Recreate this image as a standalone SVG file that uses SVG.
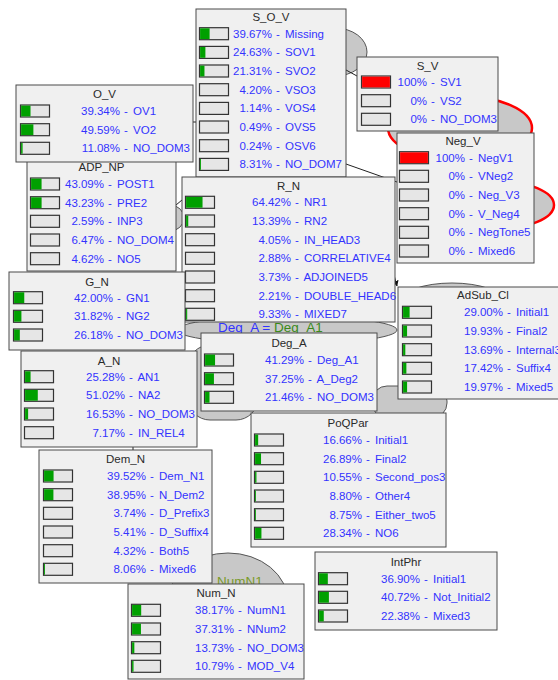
<svg xmlns="http://www.w3.org/2000/svg" width="558" height="680" viewBox="0 0 558 680">
<defs>
<style>
.box{fill:#f0f0f0;stroke:#4a4a4a;stroke-width:1}
.bar{fill:#e6e6e6;stroke:#333;stroke-width:1.2}
.g{fill:#00a000}
.r{fill:#ff0000}
.t{font-family:"Liberation Sans",Arial,sans-serif;font-size:11.5px;fill:#2a2a2a;text-anchor:middle}
.p{font-family:"Liberation Sans",Arial,sans-serif;font-size:11.5px;fill:#3333ff;text-anchor:end}
.l{font-family:"Liberation Sans",Arial,sans-serif;font-size:11.5px;fill:#3333ff;word-spacing:2px}
.blob{fill:#c8c8c8;stroke:#555;stroke-width:1}
.eblob{fill:#c8c8c8;stroke:#ff0000;stroke-width:2.5}
.c{stroke:#222;stroke-width:1;fill:none}
.big{font-family:"Liberation Sans",Arial,sans-serif;font-size:13.5px}
</style>
<marker id="ah" viewBox="0 0 10 10" refX="9" refY="5" markerWidth="6" markerHeight="6" orient="auto"><path d="M0,0 L10,5 L0,10 z" fill="#111"/></marker>
</defs>
<rect x="0" y="0" width="558" height="680" fill="#ffffff"/>
<g id="backdrop">
<ellipse class="blob" cx="335" cy="52" rx="32" ry="24"/>
<ellipse class="eblob" cx="460" cy="128" rx="72" ry="32"/>
<ellipse class="eblob" cx="497" cy="205" rx="57" ry="24"/>
<ellipse class="blob" cx="170" cy="218" rx="14" ry="13"/>
<ellipse class="blob" cx="452" cy="302" rx="52" ry="19"/>
<ellipse class="blob" cx="287" cy="330" rx="110" ry="14"/>
<text class="big" x="218" y="332"><tspan fill="#3333ff">Deg_A = </tspan><tspan fill="#3a8a1a">Deg_A1</tspan></text>
<rect class="blob" x="188" y="345" width="70" height="75" rx="22"/>
<rect class="blob" x="372" y="386" width="75" height="32" rx="15"/>
<ellipse class="blob" cx="228" cy="602" rx="60" ry="49"/>
<text class="big" x="217" y="586" fill="#7a9a2a">NumN1</text>
</g>
<g id="connectors">
<line class="c" x1="346" y1="70" x2="357" y2="76"/>
<line class="c" x1="346" y1="164" x2="397" y2="182"/>
<line class="c" x1="193" y1="122" x2="196" y2="122"/>
<line class="c" x1="176" y1="205" x2="182" y2="200"/>
<line class="c" x1="391" y1="264" x2="397" y2="286" marker-end="url(#ah)"/>
<line class="c" x1="133" y1="447" x2="133" y2="450"/>
</g>
<g id="node-S_O_V">
<rect class="box" x="196" y="9" width="150" height="168"/>
<text class="t" x="271" y="21">S_O_V</text>
<rect class="bar" x="199.5" y="27.7" width="29" height="12"/><rect class="g" x="200.1" y="28.3" width="9.51" height="10.8"/>
<text class="p" x="272" y="37.7">39.67%</text><text class="l" x="276" y="37.7">- Missing</text>
<rect class="bar" x="199.5" y="46.4" width="29" height="12"/><rect class="g" x="200.1" y="47" width="5.3" height="10.8"/>
<text class="p" x="272" y="56.4">24.63%</text><text class="l" x="276" y="56.4">- SOV1</text>
<rect class="bar" x="199.5" y="65" width="29" height="12"/><rect class="g" x="200.1" y="65.6" width="4.37" height="10.8"/>
<text class="p" x="272" y="75">21.31%</text><text class="l" x="276" y="75">- SVO2</text>
<rect class="bar" x="199.5" y="83.7" width="29" height="12"/>
<text class="p" x="272" y="93.7">4.20%</text><text class="l" x="276" y="93.7">- VSO3</text>
<rect class="bar" x="199.5" y="102.4" width="29" height="12"/>
<text class="p" x="272" y="112.4">1.14%</text><text class="l" x="276" y="112.4">- VOS4</text>
<rect class="bar" x="199.5" y="121" width="29" height="12"/>
<text class="p" x="272" y="131">0.49%</text><text class="l" x="276" y="131">- OVS5</text>
<rect class="bar" x="199.5" y="139.7" width="29" height="12"/>
<text class="p" x="272" y="149.7">0.24%</text><text class="l" x="276" y="149.7">- OSV6</text>
<rect class="bar" x="199.5" y="158.4" width="29" height="12"/><rect class="g" x="200.1" y="159" width="0.9" height="10.8"/>
<text class="p" x="272" y="168.4">8.31%</text><text class="l" x="276" y="168.4">- NO_DOM7</text>
</g>
<g id="node-S_V">
<rect class="box" x="357" y="57" width="141" height="74"/>
<text class="t" x="427.5" y="70">S_V</text>
<rect class="bar" x="361.5" y="76" width="29" height="12"/><rect class="r" x="362.1" y="76.6" width="27.8" height="10.8"/>
<text class="p" x="427" y="86">100%</text><text class="l" x="431" y="86">- SV1</text>
<rect class="bar" x="361.5" y="94.7" width="29" height="12"/>
<text class="p" x="427" y="104.7">0%</text><text class="l" x="431" y="104.7">- VS2</text>
<rect class="bar" x="361.5" y="113.3" width="29" height="12"/>
<text class="p" x="427" y="123.3">0%</text><text class="l" x="431" y="123.3">- NO_DOM3</text>
</g>
<g id="node-Neg_V">
<rect class="box" x="397" y="133" width="137" height="130"/>
<text class="t" x="463" y="145">Neg_V</text>
<rect class="bar" x="399.5" y="151.7" width="29" height="12"/><rect class="r" x="400.1" y="152.3" width="27.8" height="10.8"/>
<text class="p" x="465" y="161.7">100%</text><text class="l" x="469" y="161.7">- NegV1</text>
<rect class="bar" x="399.5" y="170.3" width="29" height="12"/>
<text class="p" x="465" y="180.3">0%</text><text class="l" x="469" y="180.3">- VNeg2</text>
<rect class="bar" x="399.5" y="189" width="29" height="12"/>
<text class="p" x="465" y="199">0%</text><text class="l" x="469" y="199">- Neg_V3</text>
<rect class="bar" x="399.5" y="207.7" width="29" height="12"/>
<text class="p" x="465" y="217.7">0%</text><text class="l" x="469" y="217.7">- V_Neg4</text>
<rect class="bar" x="399.5" y="226.3" width="29" height="12"/>
<text class="p" x="465" y="236.3">0%</text><text class="l" x="469" y="236.3">- NegTone5</text>
<rect class="bar" x="399.5" y="245" width="29" height="12"/>
<text class="p" x="465" y="255">0%</text><text class="l" x="469" y="255">- Mixed6</text>
</g>
<g id="node-ADP_NP">
<rect class="box" x="27" y="159" width="149" height="112"/>
<text class="t" x="101.5" y="171">ADP_NP</text>
<rect class="bar" x="30.5" y="178" width="29" height="12"/><rect class="g" x="31.1" y="178.6" width="10.47" height="10.8"/>
<text class="p" x="104" y="188">43.09%</text><text class="l" x="108" y="188">- POST1</text>
<rect class="bar" x="30.5" y="196.7" width="29" height="12"/><rect class="g" x="31.1" y="197.3" width="10.5" height="10.8"/>
<text class="p" x="104" y="206.7">43.23%</text><text class="l" x="108" y="206.7">- PRE2</text>
<rect class="bar" x="30.5" y="215.3" width="29" height="12"/>
<text class="p" x="104" y="225.3">2.59%</text><text class="l" x="108" y="225.3">- INP3</text>
<rect class="bar" x="30.5" y="234" width="29" height="12"/>
<text class="p" x="104" y="244">6.47%</text><text class="l" x="108" y="244">- NO_DOM4</text>
<rect class="bar" x="30.5" y="252.7" width="29" height="12"/>
<text class="p" x="104" y="262.7">4.62%</text><text class="l" x="108" y="262.7">- NO5</text>
</g>
<g id="node-O_V">
<rect class="box" x="16" y="85" width="177" height="77"/>
<text class="t" x="104.5" y="98">O_V</text>
<rect class="bar" x="20.5" y="105" width="29" height="12"/><rect class="g" x="21.1" y="105.6" width="9.42" height="10.8"/>
<text class="p" x="120" y="115">39.34%</text><text class="l" x="124" y="115">- OV1</text>
<rect class="bar" x="20.5" y="123.7" width="29" height="12"/><rect class="g" x="21.1" y="124.3" width="12.29" height="10.8"/>
<text class="p" x="120" y="133.7">49.59%</text><text class="l" x="124" y="133.7">- VO2</text>
<rect class="bar" x="20.5" y="142.3" width="29" height="12"/><rect class="g" x="21.1" y="142.9" width="1.5" height="10.8"/>
<text class="p" x="120" y="152.3">11.08%</text><text class="l" x="124" y="152.3">- NO_DOM3</text>
</g>
<g id="node-R_N">
<rect class="box" x="182" y="177" width="213" height="145"/>
<text class="t" x="288.5" y="190">R_N</text>
<rect class="bar" x="185.5" y="196.3" width="29" height="12"/><rect class="g" x="186.1" y="196.9" width="16.44" height="10.8"/>
<text class="p" x="291" y="206.3">64.42%</text><text class="l" x="295" y="206.3">- NR1</text>
<rect class="bar" x="185.5" y="215" width="29" height="12"/><rect class="g" x="186.1" y="215.6" width="2.15" height="10.8"/>
<text class="p" x="291" y="225">13.39%</text><text class="l" x="295" y="225">- RN2</text>
<rect class="bar" x="185.5" y="233.7" width="29" height="12"/>
<text class="p" x="291" y="243.7">4.05%</text><text class="l" x="295" y="243.7">- IN_HEAD3</text>
<rect class="bar" x="185.5" y="252.3" width="29" height="12"/>
<text class="p" x="291" y="262.3">2.88%</text><text class="l" x="295" y="262.3">- CORRELATIVE4</text>
<rect class="bar" x="185.5" y="271" width="29" height="12"/>
<text class="p" x="291" y="281">3.73%</text><text class="l" x="295" y="281">- ADJOINED5</text>
<rect class="bar" x="185.5" y="289.7" width="29" height="12"/>
<text class="p" x="291" y="299.7">2.21%</text><text class="l" x="295" y="299.7">- DOUBLE_HEAD6</text>
<rect class="bar" x="185.5" y="308.3" width="29" height="12"/><rect class="g" x="186.1" y="308.9" width="1.1" height="10.8"/>
<text class="p" x="291" y="318.3">9.33%</text><text class="l" x="295" y="318.3">- MIXED7</text>
</g>
<g id="node-G_N">
<rect class="box" x="9" y="272" width="176" height="78"/>
<text class="t" x="97" y="286">G_N</text>
<rect class="bar" x="13.5" y="291.7" width="29" height="12"/><rect class="g" x="14.1" y="292.3" width="10.16" height="10.8"/>
<text class="p" x="113" y="301.7">42.00%</text><text class="l" x="117" y="301.7">- GN1</text>
<rect class="bar" x="13.5" y="310.3" width="29" height="12"/><rect class="g" x="14.1" y="310.9" width="7.31" height="10.8"/>
<text class="p" x="113" y="320.3">31.82%</text><text class="l" x="117" y="320.3">- NG2</text>
<rect class="bar" x="13.5" y="329" width="29" height="12"/><rect class="g" x="14.1" y="329.6" width="5.73" height="10.8"/>
<text class="p" x="113" y="339">26.18%</text><text class="l" x="117" y="339">- NO_DOM3</text>
</g>
<g id="node-A_N">
<rect class="box" x="21" y="351" width="176" height="96"/>
<text class="t" x="109" y="365">A_N</text>
<rect class="bar" x="24.5" y="370.7" width="29" height="12"/><rect class="g" x="25.1" y="371.3" width="5.48" height="10.8"/>
<text class="p" x="125" y="380.7">25.28%</text><text class="l" x="129" y="380.7">- AN1</text>
<rect class="bar" x="24.5" y="389.3" width="29" height="12"/><rect class="g" x="25.1" y="389.9" width="12.69" height="10.8"/>
<text class="p" x="125" y="399.3">51.02%</text><text class="l" x="129" y="399.3">- NA2</text>
<rect class="bar" x="24.5" y="408" width="29" height="12"/><rect class="g" x="25.1" y="408.6" width="3.03" height="10.8"/>
<text class="p" x="125" y="418">16.53%</text><text class="l" x="129" y="418">- NO_DOM3</text>
<rect class="bar" x="24.5" y="426.7" width="29" height="12"/>
<text class="p" x="125" y="436.7">7.17%</text><text class="l" x="129" y="436.7">- IN_REL4</text>
</g>
<g id="node-Deg_A">
<rect class="box" x="201" y="333" width="176" height="78"/>
<text class="t" x="289" y="347">Deg_A</text>
<rect class="bar" x="204.5" y="354" width="29" height="12"/><rect class="g" x="205.1" y="354.6" width="9.96" height="10.8"/>
<text class="p" x="304" y="364">41.29%</text><text class="l" x="308" y="364">- Deg_A1</text>
<rect class="bar" x="204.5" y="372.7" width="29" height="12"/><rect class="g" x="205.1" y="373.3" width="8.83" height="10.8"/>
<text class="p" x="304" y="382.7">37.25%</text><text class="l" x="308" y="382.7">- A_Deg2</text>
<rect class="bar" x="204.5" y="391.3" width="29" height="12"/><rect class="g" x="205.1" y="391.9" width="4.41" height="10.8"/>
<text class="p" x="304" y="401.3">21.46%</text><text class="l" x="308" y="401.3">- NO_DOM3</text>
</g>
<g id="node-AdSub_Cl">
<rect class="box" x="398" y="287" width="170" height="112"/>
<text class="t" x="483" y="299">AdSub_Cl</text>
<rect class="bar" x="402.5" y="306.3" width="29" height="12"/><rect class="g" x="403.1" y="306.9" width="6.52" height="10.8"/>
<text class="p" x="503" y="316.3">29.00%</text><text class="l" x="507" y="316.3">- Initial1</text>
<rect class="bar" x="402.5" y="325" width="29" height="12"/><rect class="g" x="403.1" y="325.6" width="3.98" height="10.8"/>
<text class="p" x="503" y="335">19.93%</text><text class="l" x="507" y="335">- Final2</text>
<rect class="bar" x="402.5" y="343.7" width="29" height="12"/><rect class="g" x="403.1" y="344.3" width="2.23" height="10.8"/>
<text class="p" x="503" y="353.7">13.69%</text><text class="l" x="507" y="353.7">- Internal3</text>
<rect class="bar" x="402.5" y="362.3" width="29" height="12"/><rect class="g" x="403.1" y="362.9" width="3.28" height="10.8"/>
<text class="p" x="503" y="372.3">17.42%</text><text class="l" x="507" y="372.3">- Suffix4</text>
<rect class="bar" x="402.5" y="381" width="29" height="12"/><rect class="g" x="403.1" y="381.6" width="3.99" height="10.8"/>
<text class="p" x="503" y="391">19.97%</text><text class="l" x="507" y="391">- Mixed5</text>
</g>
<g id="node-PoQPar">
<rect class="box" x="251" y="413" width="195" height="134"/>
<text class="t" x="348" y="427">PoQPar</text>
<rect class="bar" x="254.5" y="434" width="29" height="12"/><rect class="g" x="255.1" y="434.6" width="3.06" height="10.8"/>
<text class="p" x="362" y="444">16.66%</text><text class="l" x="366" y="444">- Initial1</text>
<rect class="bar" x="254.5" y="452.7" width="29" height="12"/><rect class="g" x="255.1" y="453.3" width="5.93" height="10.8"/>
<text class="p" x="362" y="462.7">26.89%</text><text class="l" x="366" y="462.7">- Final2</text>
<rect class="bar" x="254.5" y="471.3" width="29" height="12"/><rect class="g" x="255.1" y="471.9" width="1.35" height="10.8"/>
<text class="p" x="362" y="481.3">10.55%</text><text class="l" x="366" y="481.3">- Second_pos3</text>
<rect class="bar" x="254.5" y="490" width="29" height="12"/><rect class="g" x="255.1" y="490.6" width="0.86" height="10.8"/>
<text class="p" x="362" y="500">8.80%</text><text class="l" x="366" y="500">- Other4</text>
<rect class="bar" x="254.5" y="508.7" width="29" height="12"/><rect class="g" x="255.1" y="509.3" width="0.85" height="10.8"/>
<text class="p" x="362" y="518.7">8.75%</text><text class="l" x="366" y="518.7">- Either_two5</text>
<rect class="bar" x="254.5" y="527.3" width="29" height="12"/><rect class="g" x="255.1" y="527.9" width="6.34" height="10.8"/>
<text class="p" x="362" y="537.3">28.34%</text><text class="l" x="366" y="537.3">- NO6</text>
</g>
<g id="node-Dem_N">
<rect class="box" x="39" y="450" width="173" height="133"/>
<text class="t" x="125.5" y="463">Dem_N</text>
<rect class="bar" x="43.5" y="470" width="29" height="12"/><rect class="g" x="44.1" y="470.6" width="9.47" height="10.8"/>
<text class="p" x="146" y="480">39.52%</text><text class="l" x="150" y="480">- Dem_N1</text>
<rect class="bar" x="43.5" y="488.7" width="29" height="12"/><rect class="g" x="44.1" y="489.3" width="9.31" height="10.8"/>
<text class="p" x="146" y="498.7">38.95%</text><text class="l" x="150" y="498.7">- N_Dem2</text>
<rect class="bar" x="43.5" y="507.3" width="29" height="12"/>
<text class="p" x="146" y="517.3">3.74%</text><text class="l" x="150" y="517.3">- D_Prefix3</text>
<rect class="bar" x="43.5" y="526" width="29" height="12"/>
<text class="p" x="146" y="536">5.41%</text><text class="l" x="150" y="536">- D_Suffix4</text>
<rect class="bar" x="43.5" y="544.7" width="29" height="12"/>
<text class="p" x="146" y="554.7">4.32%</text><text class="l" x="150" y="554.7">- Both5</text>
<rect class="bar" x="43.5" y="563.3" width="29" height="12"/><rect class="g" x="44.1" y="563.9" width="0.9" height="10.8"/>
<text class="p" x="146" y="573.3">8.06%</text><text class="l" x="150" y="573.3">- Mixed6</text>
</g>
<g id="node-Num_N">
<rect class="box" x="128" y="584" width="176" height="95"/>
<text class="t" x="216" y="597">Num_N</text>
<rect class="bar" x="131.5" y="604.3" width="29" height="12"/><rect class="g" x="132.1" y="604.9" width="9.09" height="10.8"/>
<text class="p" x="234" y="614.3">38.17%</text><text class="l" x="238" y="614.3">- NumN1</text>
<rect class="bar" x="131.5" y="623" width="29" height="12"/><rect class="g" x="132.1" y="623.6" width="8.85" height="10.8"/>
<text class="p" x="234" y="633">37.31%</text><text class="l" x="238" y="633">- NNum2</text>
<rect class="bar" x="131.5" y="641.7" width="29" height="12"/><rect class="g" x="132.1" y="642.3" width="2.24" height="10.8"/>
<text class="p" x="234" y="651.7">13.73%</text><text class="l" x="238" y="651.7">- NO_DOM3</text>
<rect class="bar" x="131.5" y="660.3" width="29" height="12"/><rect class="g" x="132.1" y="660.9" width="1.42" height="10.8"/>
<text class="p" x="234" y="670.3">10.79%</text><text class="l" x="238" y="670.3">- MOD_V4</text>
</g>
<g id="node-IntPhr">
<rect class="box" x="315" y="552" width="182" height="78"/>
<text class="t" x="406" y="566">IntPhr</text>
<rect class="bar" x="318.5" y="572.7" width="29" height="12"/><rect class="g" x="319.1" y="573.3" width="8.73" height="10.8"/>
<text class="p" x="420" y="582.7">36.90%</text><text class="l" x="424" y="582.7">- Initial1</text>
<rect class="bar" x="318.5" y="591.3" width="29" height="12"/><rect class="g" x="319.1" y="591.9" width="9.8" height="10.8"/>
<text class="p" x="420" y="601.3">40.72%</text><text class="l" x="424" y="601.3">- Not_Initial2</text>
<rect class="bar" x="318.5" y="610" width="29" height="12"/><rect class="g" x="319.1" y="610.6" width="4.67" height="10.8"/>
<text class="p" x="420" y="620">22.38%</text><text class="l" x="424" y="620">- Mixed3</text>
</g>
</svg>
